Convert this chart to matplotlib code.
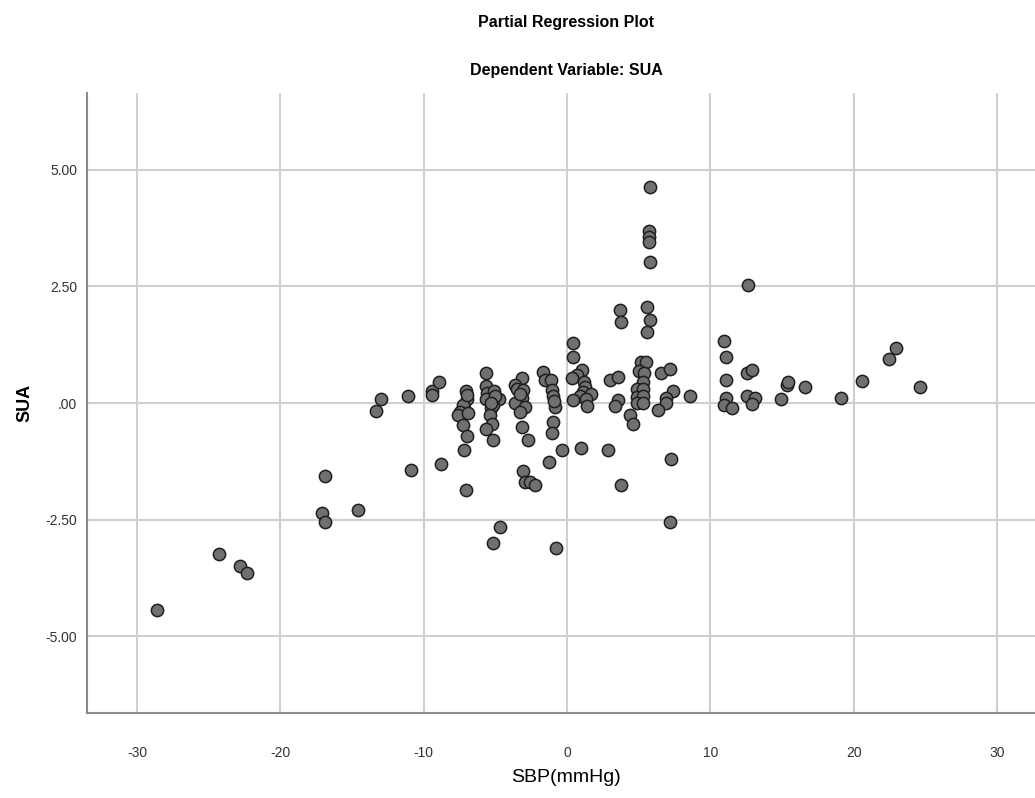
import matplotlib
matplotlib.use('Agg')
import matplotlib.pyplot as plt
from matplotlib import font_manager

# SBP(mmHg) residuals vs SUA residuals
sbp = [-28.6, -24.3, -22.8, -22.3, -16.9, -17.1, -16.9, -14.6, -13.3, -13.0, -11.1, -10.9,
       -9.44, -9.40, -8.91, -8.79,
       -7.07, -6.96, -7.17, -7.25, -7.47, -7.63, -6.91, -7.28, -6.98, -7.17, -7.07, -7.0,
       -5.67, -5.65, -5.56, -5.07, -5.65, -4.75, -5.30, -5.2, -5.37, -5.23, -5.67, -5.14,
       -5.14, -4.68, -5.0, -5.3,
       -3.16, -3.63, -3.47, -3.05, -3.16, -3.63, -2.93, -3.28, -3.16, -2.74, -3.10, -2.93,
       -2.60, -2.25, -3.3,
       -1.65, -1.54, -1.14, -1.07, -1.0, -0.84, -0.96, -1.07, -0.37, -1.23, -0.74, -0.9,
       0.44, 0.44, 1.07, 0.67, 0.33, 1.19, 1.26, 1.14, 1.67, 0.91, 1.33, 0.44, 1.37, 0.95,
       3.70, 3.77, 3.0, 3.54, 3.58, 3.35, 2.84, 3.75,
       4.37, 4.58, 5.79, 5.74, 5.74, 5.74, 5.79, 5.56, 5.79, 5.60, 5.16, 5.49, 5.05, 5.37,
       5.32, 4.91, 5.28, 4.86, 5.3, 4.86, 5.28,
       6.56, 7.19, 7.37, 6.91, 6.91, 6.37, 8.58, 7.26, 7.19,
       10.98, 11.10, 11.10, 11.10, 10.98, 11.54,
       12.61, 12.58, 12.93, 12.58, 13.12, 12.93, 15.33, 15.45, 16.61, 14.91, 19.12, 20.56,
       22.47, 22.94, 24.63]
sua = [-4.44, -3.24, -3.49, -3.65, -1.56, -2.35, -2.55, -2.29, -0.17, 0.09, 0.14, -1.44,
       0.26, 0.17, 0.44, -1.31,
       0.26, 0.09, -0.11, -0.05, -0.19, -0.26, -0.21, -0.47, -0.71, -1.01, -1.86, 0.18,
       0.64, 0.36, 0.21, 0.26, 0.08, 0.08, -0.11, -0.05, -0.26, -0.44, -0.56, -0.79,
       -3.0, -2.65, 0.15, 0.0,
       0.53, 0.39, 0.31, 0.28, 0.10, 0.01, -0.09, -0.19, -0.51, -0.79, -1.45, -1.70,
       -1.70, -1.75, 0.2,
       0.67, 0.49, 0.49, 0.28, 0.14, -0.08, -0.40, -0.65, -1.01, -1.26, -3.10, 0.05,
       1.28, 0.99, 0.71, 0.60, 0.53, 0.46, 0.35, 0.24, 0.19, 0.14, 0.08, 0.06, -0.06, -0.96,
       2.0, 1.73, 0.49, 0.55, 0.06, -0.06, -1.01, -1.75,
       -0.25, -0.46, 4.64, 3.68, 3.57, 3.46, 3.03, 2.05, 1.78, 1.53, 0.89, 0.89, 0.69, 0.65,
       0.46, 0.29, 0.29, 0.12, 0.15, -0.01, -0.01,
       0.64, 0.74, 0.26, 0.10, -0.01, -0.15, 0.14, -1.20, -2.55,
       1.32, 0.99, 0.49, 0.11, -0.04, -0.11,
       2.53, 0.65, 0.71, 0.15, 0.10, -0.02, 0.39, 0.46, 0.35, 0.09, 0.10, 0.48,
       0.94, 1.19, 0.34]

x_ticks = [-30, -20, -10, 0, 10, 20, 30]
y_ticks = [-5, -2.5, 0, 2.5, 5]
y_labels = ['-5.00', '-2.50', '.00', '2.50', '5.00']

installed = {f.name for f in font_manager.fontManager.ttflist}
narrow = ['Liberation Sans Narrow', 'Liberation Sans'] if 'Liberation Sans Narrow' in installed else ['Liberation Sans']
plt.rcParams['font.family'] = ['Liberation Sans', 'DejaVu Sans']

fig = plt.figure(figsize=(10.35, 7.98), dpi=100)
ax = fig.add_axes([87 / 1035, 85 / 798, 1 - 87 / 1035, (713 - 93) / 798])

ax.scatter(sbp, sua, s=78, facecolor='#707070', edgecolor='#1e1e1e', linewidth=1.1, zorder=3)

ax.set_xlim(-33.5, 32.66)
ax.set_ylim(-6.65, 6.65)
ax.set_xticks(x_ticks)
ax.set_xticklabels([str(t) for t in x_ticks])
ax.set_yticks(y_ticks)
ax.set_yticklabels(y_labels)
ax.grid(True, color='#cfcfcf', linewidth=1.5, zorder=0)
ax.set_axisbelow(True)

for side in ['top', 'right']:
    ax.spines[side].set_visible(False)
for side in ['left', 'bottom']:
    ax.spines[side].set_color('#8a8a8a')
    ax.spines[side].set_linewidth(1.5)

ax.tick_params(axis='both', length=0, labelsize=10, labelcolor='#333333')
ax.tick_params(axis='x', pad=24)
ax.tick_params(axis='y', pad=7)

ax.set_ylabel('SUA', fontsize=13, fontweight='bold', labelpad=9)
fig.text(566 / 1035, 1 - 778 / 798, 'SBP(mmHg)', family=narrow, fontsize=14,
         ha='center', va='center')
fig.text(566 / 1035, 1 - 22 / 798, 'Partial Regression Plot', family=narrow,
         fontsize=11.5, fontweight='bold', ha='center', va='center')
fig.text(566 / 1035, 1 - 70 / 798, 'Dependent Variable: SUA', family=narrow,
         fontsize=11.5, fontweight='bold', ha='center', va='center')

fig.savefig('out.png', dpi=100)
